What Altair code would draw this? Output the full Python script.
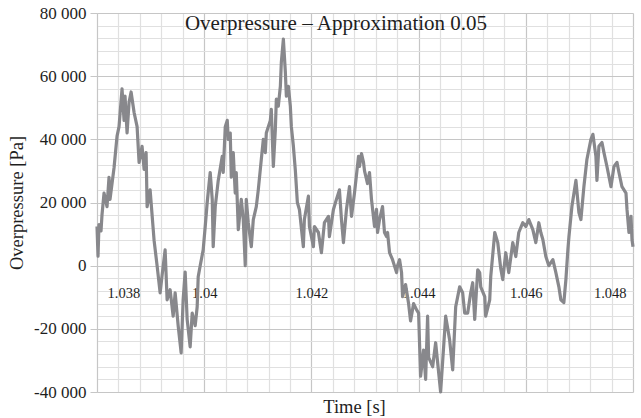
import altair as alt
import pandas as pd

time_s = [
    1.038000, 1.038019, 1.038037, 1.038075, 1.038093, 1.038131, 1.038187, 1.038224, 1.038243, 1.038318,
    1.038374, 1.038411, 1.038467, 1.038505, 1.038523, 1.038561, 1.038598, 1.038636, 1.038692, 1.038748,
    1.038785, 1.038841, 1.038879, 1.038916, 1.038935, 1.038991, 1.039065, 1.039121, 1.039178, 1.039215,
    1.039271, 1.039308, 1.039364, 1.039421, 1.039458, 1.039514, 1.039570, 1.039607, 1.039645, 1.039682,
    1.039738, 1.039776, 1.039832, 1.039869, 1.039888, 1.039925, 1.039981, 1.040019, 1.040056, 1.040112,
    1.040150, 1.040168, 1.040206, 1.040262, 1.040336, 1.040355, 1.040393, 1.040430, 1.040449, 1.040486,
    1.040505, 1.040542, 1.040579, 1.040598, 1.040636, 1.040692, 1.040729, 1.040766, 1.040785, 1.040822,
    1.040879, 1.040916, 1.040972, 1.041009, 1.041065, 1.041103, 1.041140, 1.041159, 1.041234, 1.041252,
    1.041290, 1.041327, 1.041346, 1.041383, 1.041421, 1.041439, 1.041477, 1.041514, 1.041533, 1.041570,
    1.041607, 1.041626, 1.041664, 1.041701, 1.041738, 1.041776, 1.041850, 1.041869, 1.041944, 1.041963,
    1.042037, 1.042056, 1.042131, 1.042187, 1.042243, 1.042318, 1.042336, 1.042411, 1.042467, 1.042523,
    1.042561, 1.042598, 1.042654, 1.042710, 1.042748, 1.042804, 1.042879, 1.042897, 1.042935, 1.042972,
    1.042991, 1.043047, 1.043084, 1.043121, 1.043178, 1.043215, 1.043234, 1.043271, 1.043327, 1.043364,
    1.043402, 1.043421, 1.043458, 1.043514, 1.043589, 1.043607, 1.043645, 1.043682, 1.043701, 1.043757,
    1.043813, 1.043850, 1.043907, 1.043963, 1.044000, 1.044037, 1.044093, 1.044131, 1.044168, 1.044187,
    1.044262, 1.044318, 1.044411, 1.044505, 1.044579, 1.044636, 1.044692, 1.044766, 1.044822, 1.044860,
    1.044916, 1.044972, 1.045009, 1.045047, 1.045103, 1.045140, 1.045159, 1.045234, 1.045252, 1.045327,
    1.045346, 1.045421, 1.045477, 1.045533, 1.045570, 1.045626, 1.045682, 1.045757, 1.045813, 1.045869,
    1.045944, 1.046000, 1.046056, 1.046131, 1.046187, 1.046243, 1.046280, 1.046318, 1.046374, 1.046430,
    1.046505, 1.046561, 1.046617, 1.046654, 1.046710, 1.046748, 1.046785, 1.046804, 1.046860, 1.046935,
    1.046991, 1.047028, 1.047084, 1.047140, 1.047215, 1.047252, 1.047308, 1.047327, 1.047364, 1.047421,
    1.047458, 1.047514, 1.047589, 1.047645, 1.047701, 1.047738, 1.047794, 1.047869, 1.047888, 1.047925,
    1.047963, 1.047981, 1.048000,
]

overpressure_pa = [
    12400, 3000, 13000, 11000, 16000, 23000, 18700, 28000, 21000, 31000,
    41000, 44000, 56000, 46000, 53700, 42000, 51700, 55000, 48500, 44000,
    32700, 37800, 30500, 35800, 18700, 24000, 8000, 0, -8600, -3000,
    5000, -10800, -7600, -16000, -8600, -19000, -27600, -10800, -2000, -17000,
    -25700, -15000, -19000, -13000, -3500, 0, 5000, 12400, 20000, 29500,
    21000, 6000, 18700, 27000, 34600, 29500, 44000, 46000, 40000, 42000,
    28000, 35800, 23000, 29500, 11400, 21000, 14600, 0, 21000, 13600,
    6000, 14600, 18700, 24000, 33600, 40000, 35800, 42000, 46000, 49500,
    31400, 43000, 52700, 50500, 56800, 64400, 71700, 61300, 53700, 56800,
    50500, 44000, 37800, 30000, 20000, 17800, 6000, 14600, 22000, 12400,
    6000, 12400, 10500, 4100, 13600, 15600, 9200, 17800, 21000, 24000,
    14600, 7300, 17800, 25000, 15600, 23000, 34600, 31400, 35500, 32700,
    30000, 26000, 29500, 21000, 12400, 17800, 10500, 14600, 18700, 10500,
    9200, 10500, 4100, 1900, -2200, 0, 1900, -2200, -9800, -6000,
    -12000, -17500, -12000, -14000, -15000, -35000, -26700, -36000, -16000, -29000,
    -32000, -24400, -40000, -16000, -23500, -33000, -13000, -6700, -8600, -15000,
    -15000, -8600, -5400, -17000, -1300, -2200, -6700, -9800, -16000, -10800,
    -3500, 10500, 7300, -1000, -4400, 4100, -2200, 7300, 2900, 10500,
    13600, 12400, 14600, 11400, 7300, 13600, 10500, 8300, 2900, 0,
    1900, -2200, -6700, -10800, -11700, -4400, 5000, 9000, 18700, 27000,
    16800, 14600, 25000, 33600, 40000, 41600, 34600, 27000, 37800, 39000,
    35800, 31400, 25000, 31400, 32700, 29500, 25000, 23000, 17800, 10500,
    15600, 8300, 6000,
]

x_tick_values = [round(1.038 + i * 0.0004, 4) for i in range(26)]
y_tick_values = list(range(-40000, 80001, 4000))

df = pd.DataFrame({"t": time_s, "p": overpressure_pa})

FONT = "Liberation Serif"
TXT = "#1e1e1e"
MAJOR = "#c6c6c6"
MINOR = "#e0e0e0"

x_major = "abs(datum.value*500 - round(datum.value*500)) < 0.01"
y_major = "datum.value % 20000 == 0"

W, H = 536, 379
zero_from_bottom = H * 40000 / 120000

x_axis = alt.Axis(
    values=x_tick_values,
    labelExpr=f"{x_major} ? format(datum.value, '.3~f') : ''",
    labelFont=FONT,
    labelFontSize=14.5,
    labelColor=TXT,
    labelBaseline="alphabetic",
    labelPadding=32,
    labelOverlap=False,
    labelOffset={"condition": [
        {"test": "datum.value < 1.0381", "value": 10},
        {"test": "datum.value > 1.0479", "value": -7},
    ], "value": 0},
    ticks=False,
    tickSize=0,
    domain=False,
    grid=True,
    gridColor={"condition": {"test": x_major, "value": MAJOR}, "value": MINOR},
    gridWidth=1.2,
    offset=-zero_from_bottom,
    title="Time [s]",
    titleFont=FONT,
    titleFontSize=18.5,
    titleFontWeight="normal",
    titleColor=TXT,
    titleX=257,
    titleY=147,
    titleAlign="center",
    titleBaseline="alphabetic",
)

y_axis = alt.Axis(
    values=y_tick_values,
    labelExpr=f"{y_major} ? (datum.value < 0 ? '-' : '') + replace(format(abs(datum.value), ','), ',', ' ') : ''",
    labelFont=FONT,
    labelFontSize=17,
    labelColor=TXT,
    labelPadding=4,
    labelOverlap=False,
    tickSize=7,
    tickColor=MAJOR,
    tickOpacity={"condition": {"test": y_major, "value": 1}, "value": 0},
    domain=True,
    domainColor=MAJOR,
    grid=True,
    gridColor={"condition": {"test": y_major, "value": MAJOR}, "value": MINOR},
    gridWidth=1.2,
    title="Overpressure [Pa]",
    titleFont=FONT,
    titleFontSize=18.5,
    titleFontWeight="normal",
    titleColor=TXT,
    titleX=-81,
    titleBaseline="middle",
    titleAlign="center",
)

chart = (
    alt.Chart(df)
    .mark_line(color="#88888c", strokeWidth=3.2, strokeJoin="round")
    .encode(
        x=alt.X("t:Q", scale=alt.Scale(domain=[1.038, 1.048], nice=False, zero=False), axis=x_axis),
        y=alt.Y("p:Q", scale=alt.Scale(domain=[-40000, 80000], nice=False, zero=False), axis=y_axis),
    )
    .properties(
        width=W,
        height=H,
        autosize=alt.AutoSizeParams(type="none"),
        padding={"left": 97, "top": 13, "right": 8, "bottom": 26},
        background="white",
        title=alt.TitleParams(
            "Overpressure – Approximation 0.05",
            font=FONT,
            fontSize=21,
            fontWeight="normal",
            color=TXT,
            anchor="middle",
            frame="group",
            orient="top",
            baseline="alphabetic",
            offset=0,
            dx=-29,
            dy=47,
        ),
    )
    .configure_axis(labelFont=FONT, titleFont=FONT)
    .configure_view(strokeWidth=0)
)

chart.save("out.html", embed_options={"renderer": "svg", "actions": False})
